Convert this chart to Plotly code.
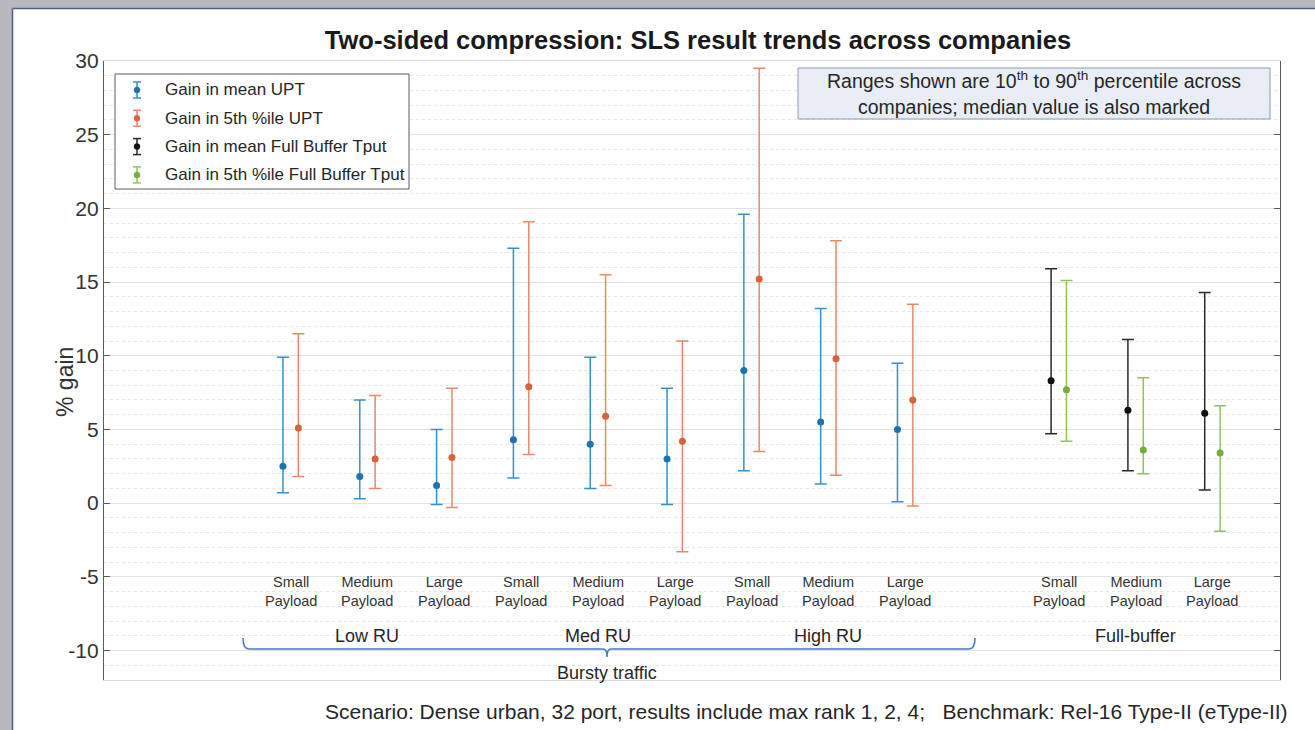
import plotly.graph_objects as go

# ---- data: 10th / median / 90th percentile of gain (%) across companies ----
payloads = ["Small<br>Payload", "Medium<br>Payload", "Large<br>Payload"]
bursty_groups = ["Low RU", "Med RU", "High RU"]

mean_upt_lo = [0.7, 0.3, -0.1, 1.7, 1.0, -0.1, 2.2, 1.3, 0.1]
mean_upt_med = [2.5, 1.8, 1.2, 4.3, 4.0, 3.0, 9.0, 5.5, 5.0]
mean_upt_hi = [9.9, 7.0, 5.0, 17.3, 9.9, 7.8, 19.6, 13.2, 9.5]

p5_upt_lo = [1.8, 1.0, -0.3, 3.3, 1.2, -3.3, 3.5, 1.9, -0.2]
p5_upt_med = [5.1, 3.0, 3.1, 7.9, 5.9, 4.2, 15.2, 9.8, 7.0]
p5_upt_hi = [11.5, 7.3, 7.8, 19.1, 15.5, 11.0, 29.5, 17.8, 13.5]

fb_mean_lo = [4.7, 2.2, 0.9]
fb_mean_med = [8.3, 6.3, 6.1]
fb_mean_hi = [15.9, 11.1, 14.3]

fb_p5_lo = [4.2, 2.0, -1.9]
fb_p5_med = [7.7, 3.6, 3.4]
fb_p5_hi = [15.1, 8.5, 6.6]

bursty_pos = [1, 2, 3, 4, 5, 6, 7, 8, 9]
fb_pos = [11, 12, 13]
pair_offset = 0.1

y_ticks = [-10, -5, 0, 5, 10, 15, 20, 25, 30]
y_tick_text = ["-10", "-5", "0", "5", "10", "15", "20", "25", "30"]

series_names = ["Gain in mean UPT", "Gain in 5th %ile UPT",
                "Gain in mean Full Buffer Tput", "Gain in 5th %ile Full Buffer Tput"]
marker_colors = ["#1d72b0", "#d9623a", "#111111", "#79ab3c"]
bar_colors = ["#3591c9", "#e8896a", "#2a2a2a", "#93c25a"]

FONT = "Liberation Sans, Arial, sans-serif"
W, H = 1315, 730
M_L, M_R, M_T, M_B = 104, 35, 61, 50
PW, PH = W - M_L - M_R, H - M_T - M_B


def px(x):
    return (x - M_L) / PW


def py(y):
    return (H - M_B - y) / PH


fig = go.Figure()


def add_series(pos, lo, med, hi, mcolor, bcolor, name):
    fig.add_trace(go.Scatter(
        x=pos, y=med, mode="markers", name=name, showlegend=False,
        marker=dict(color=mcolor, size=7),
        error_y=dict(type="data", symmetric=False,
                     array=[h - m for h, m in zip(hi, med)],
                     arrayminus=[m - l for m, l in zip(med, lo)],
                     color=bcolor, thickness=1.5, width=6),
    ))


add_series([p - pair_offset for p in bursty_pos], mean_upt_lo, mean_upt_med, mean_upt_hi,
           marker_colors[0], bar_colors[0], series_names[0])
add_series([p + pair_offset for p in bursty_pos], p5_upt_lo, p5_upt_med, p5_upt_hi,
           marker_colors[1], bar_colors[1], series_names[1])
add_series([p - pair_offset for p in fb_pos], fb_mean_lo, fb_mean_med, fb_mean_hi,
           marker_colors[2], bar_colors[2], series_names[2])
add_series([p + pair_offset for p in fb_pos], fb_p5_lo, fb_p5_med, fb_p5_hi,
           marker_colors[3], bar_colors[3], series_names[3])

shapes = []
annotations = []

# window frame shadow on the left and top edges
shapes.append(dict(type="rect", xref="paper", yref="paper", x0=px(0), x1=px(12),
                   y0=py(730), y1=py(0), fillcolor="#b9b9bd", line_width=0, layer="above"))
shapes.append(dict(type="rect", xref="paper", yref="paper", x0=px(0), x1=px(1315),
                   y0=py(8), y1=py(0), fillcolor="#b9b9bd", line_width=0, layer="above"))
shapes.append(dict(type="line", xref="paper", yref="paper", x0=px(12.5), x1=px(12.5),
                   y0=py(730), y1=py(8.5), line=dict(color="#4e5b8c", width=1.5), layer="above"))
shapes.append(dict(type="line", xref="paper", yref="paper", x0=px(12.5), x1=px(1315),
                   y0=py(8.5), y1=py(8.5), line=dict(color="#4e5b8c", width=1.5), layer="above"))

# legend box with error-bar glyphs
shapes.append(dict(type="rect", xref="paper", yref="paper", x0=px(115), x1=px(409),
                   y0=py(189), y1=py(74), fillcolor="white",
                   line=dict(color="#5a5a5a", width=1), layer="above"))
for i, name in enumerate(series_names):
    mc, bc = marker_colors[i], bar_colors[i]
    yc = 90 + i * 28.3
    gx = 137
    shapes.append(dict(type="line", xref="paper", yref="paper", x0=px(gx), x1=px(gx),
                       y0=py(yc + 8), y1=py(yc - 8), line=dict(color=bc, width=1.5), layer="above"))
    for yy in (yc - 8, yc + 8):
        shapes.append(dict(type="line", xref="paper", yref="paper", x0=px(gx - 4), x1=px(gx + 4),
                           y0=py(yy), y1=py(yy), line=dict(color=bc, width=1.5), layer="above"))
    shapes.append(dict(type="circle", xref="paper", yref="paper", x0=px(gx - 3), x1=px(gx + 3),
                       y0=py(yc + 3), y1=py(yc - 3), fillcolor=mc, line=dict(color=mc, width=0.5),
                       layer="above"))
    annotations.append(dict(text=name, xref="paper", yref="paper", x=px(163), y=py(yc),
                            xanchor="left", yanchor="middle", showarrow=False,
                            font=dict(family=FONT, size=17, color="#262626")))

# note box
shapes.append(dict(type="rect", xref="paper", yref="paper", x0=px(798), x1=px(1270),
                   y0=py(119), y1=py(68), fillcolor="#e9eef6",
                   line=dict(color="#8d9bb4", width=1), layer="above"))
annotations.append(dict(
    text="Ranges shown are 10<sup>th</sup> to 90<sup>th</sup> percentile across<br>"
         "companies; median value is also marked",
    xref="paper", yref="paper", x=px(1034), y=py(93.5), xanchor="center", yanchor="middle",
    showarrow=False, align="center", font=dict(family=FONT, size=19.5, color="#262626")))

# payload labels under each pair
for k, p in enumerate(bursty_pos + fb_pos):
    annotations.append(dict(text=payloads[k % 3], xref="x", yref="paper", x=p, y=py(591),
                            xanchor="center", yanchor="middle", showarrow=False,
                            font=dict(family=FONT, size=14.5, color="#333333")))

# group labels
for g, name in enumerate(bursty_groups):
    annotations.append(dict(text=name, xref="x", yref="paper", x=bursty_pos[3 * g + 1], y=py(636),
                            xanchor="center", yanchor="middle", showarrow=False,
                            font=dict(family=FONT, size=18, color="#262626")))
annotations.append(dict(text="Full-buffer", xref="x", yref="paper", x=fb_pos[1], y=py(636),
                        xanchor="center", yanchor="middle", showarrow=False,
                        font=dict(family=FONT, size=18, color="#262626")))

# brace spanning the bursty-traffic groups
bx0, bx1, bxc, by = 243, 975, 607, 649
path = (f"M {px(bx0)},{py(638)} Q {px(bx0)},{py(by)} {px(bx0 + 6)},{py(by)} "
        f"L {px(bxc - 4)},{py(by)} Q {px(bxc)},{py(by)} {px(bxc)},{py(657)} "
        f"Q {px(bxc)},{py(by)} {px(bxc + 4)},{py(by)} "
        f"L {px(bx1 - 6)},{py(by)} Q {px(bx1)},{py(by)} {px(bx1)},{py(638)}")
shapes.append(dict(type="path", xref="paper", yref="paper", path=path,
                   line=dict(color="#4a78c8", width=1.6), layer="above"))
annotations.append(dict(text="Bursty traffic", xref="paper", yref="paper", x=px(bxc), y=py(673),
                        xanchor="center", yanchor="middle", showarrow=False,
                        font=dict(family=FONT, size=18, color="#262626")))

# y-axis title
annotations.append(dict(text="% gain", xref="paper", yref="paper", x=px(65), y=py(382),
                        xanchor="center", yanchor="middle", textangle=-90, showarrow=False,
                        font=dict(family=FONT, size=23, color="#333333")))

# footnote
annotations.append(dict(
    text="Scenario: Dense urban, 32 port, results include max rank 1, 2, 4;\u00a0\u00a0\u00a0"
         "Benchmark: Rel-16 Type-II (eType-II)",
    xref="paper", yref="paper", x=px(806), y=py(711), xanchor="center", yanchor="middle",
    showarrow=False, font=dict(family=FONT, size=21, color="#262626")))

fig.update_layout(
    width=W, height=H,
    margin=dict(l=M_L, r=M_R, t=M_T, b=M_B),
    paper_bgcolor="white", plot_bgcolor="white",
    showlegend=False,
    title=dict(text="Two-sided compression: SLS result trends across companies",
               x=px(698), xref="paper", xanchor="center", y=1 - 40 / H, yanchor="middle",
               font=dict(family=FONT, size=25.5, color="#1a1a1a", weight="bold")),
    xaxis=dict(range=[-1.43, 13.88], showgrid=False, zeroline=False, showticklabels=False,
               ticks="", showline=True, linecolor="#dcdcdc", mirror=True),
    yaxis=dict(range=[-12, 30], tickvals=y_ticks, ticktext=y_tick_text,
               showgrid=True, gridcolor="#e2e2e2", gridwidth=1, zeroline=False,
               minor=dict(dtick=1, showgrid=True, gridcolor="#e6e6e6", griddash="dot",
                          ticks=""),
               showline=True, linecolor="#5a5a5a", linewidth=1.2, mirror="ticks",
               ticks="inside", ticklen=6, tickcolor="#5a5a5a",
               tickfont=dict(family=FONT, size=21, color="#333333")),
    shapes=shapes,
    annotations=annotations,
)

fig.write_html("out.html")
